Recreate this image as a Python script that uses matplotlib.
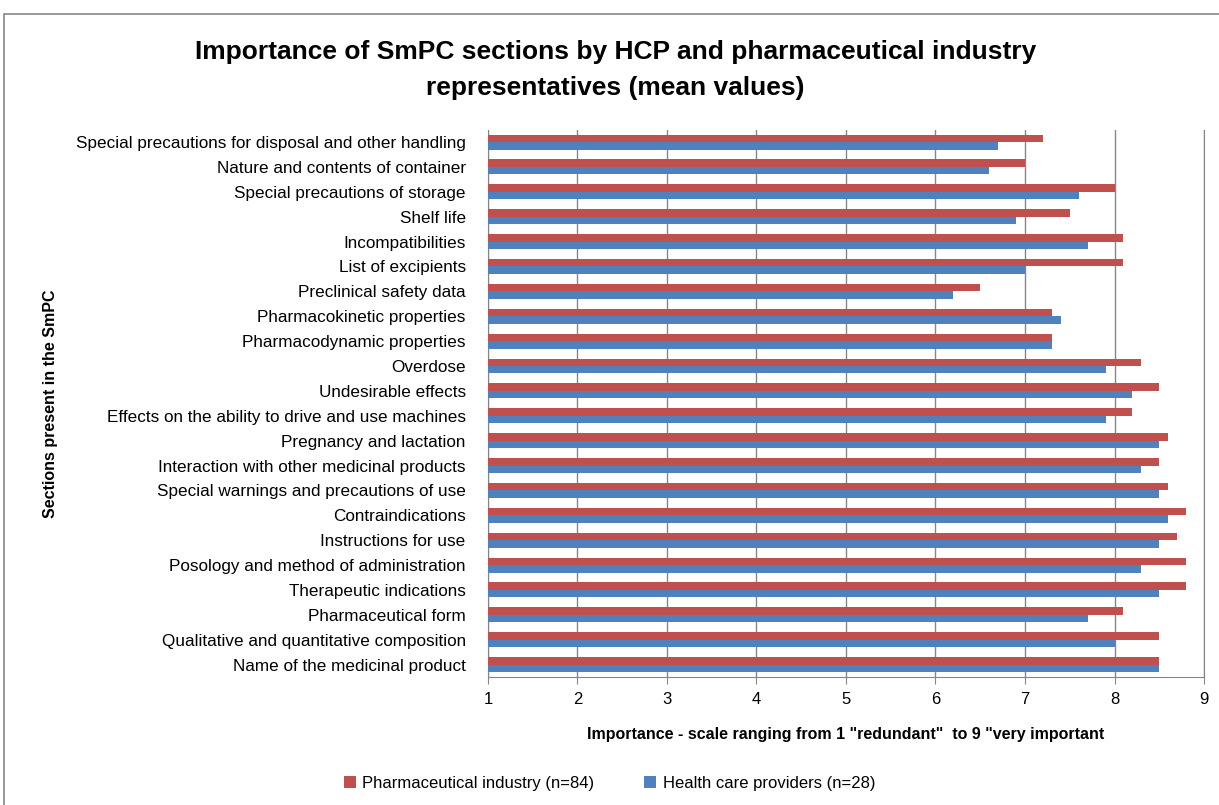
import numpy as np
import matplotlib.pyplot as plt
from matplotlib.patches import Rectangle

plt.rcParams['font.family'] = ['Liberation Sans', 'DejaVu Sans']

# sections listed bottom to top
sections = [
    "Name of the medicinal product",
    "Qualitative and quantitative composition",
    "Pharmaceutical form",
    "Therapeutic indications",
    "Posology and method of administration",
    "Instructions for use",
    "Contraindications",
    "Special warnings and precautions of use",
    "Interaction with other medicinal products",
    "Pregnancy and lactation",
    "Effects on the ability to drive and use machines",
    "Undesirable effects",
    "Overdose",
    "Pharmacodynamic properties",
    "Pharmacokinetic properties",
    "Preclinical safety data",
    "List of excipients",
    "Incompatibilities",
    "Shelf life",
    "Special precautions of storage",
    "Nature and contents of container",
    "Special precautions for disposal and other handling",
]
industry = [8.5, 8.5, 8.1, 8.8, 8.8, 8.7, 8.8, 8.6, 8.5, 8.6, 8.2,
            8.5, 8.3, 7.3, 7.3, 6.5, 8.1, 8.1, 7.5, 8.0, 7.0, 7.2]
hcp = [8.5, 8.0, 7.7, 8.5, 8.3, 8.5, 8.6, 8.5, 8.3, 8.5, 7.9,
       8.2, 7.9, 7.3, 7.4, 6.2, 7.0, 7.7, 6.9, 7.6, 6.6, 6.7]

red = '#C0504D'
blue = '#4F81BD'

fig = plt.figure(figsize=(12.19, 8.05), dpi=100)
ax = fig.add_axes([0.4003, 0.159, 0.5874, 0.68])

y = np.arange(len(sections))
h = 0.3
base = 1
ax.barh(y + h / 2, np.array(industry) - base, left=base, height=h,
        color=red, label='Pharmaceutical industry (n=84)', zorder=3)
ax.barh(y - h / 2, np.array(hcp) - base, left=base, height=h,
        color=blue, label='Health care providers (n=28)', zorder=3)

ax.set_xlim(1, 9)
ax.set_ylim(-0.5, len(sections) - 0.5)
ax.set_xticks(range(1, 10))
ax.set_yticks(y)
ax.set_yticklabels(sections, fontsize=12.3)
ax.tick_params(axis='x', labelsize=12, length=5, color='#868686', pad=6)
ax.tick_params(axis='y', length=0, pad=16)
ax.grid(axis='x', color='#868686', linewidth=1, zorder=0)
ax.spines['top'].set_visible(False)
for s in ['left', 'bottom', 'right']:
    ax.spines[s].set_color('#868686')

ax.set_xlabel('Importance - scale ranging from 1 "redundant"  to 9 "very important',
              fontsize=11.5, fontweight='bold', labelpad=14)
ax.set_ylabel('Sections present in the SmPC', fontsize=11.5, fontweight='bold')
ax.yaxis.set_label_coords(-0.60, 0.5)

fig.suptitle('Importance of SmPC sections by HCP and pharmaceutical industry\nrepresentatives (mean values)',
             fontsize=19, fontweight='bold', x=0.505, y=0.95, linespacing=1.6)

fig.legend(loc='center', bbox_to_anchor=(0.5, 0.027), ncol=2, frameon=False,
           fontsize=12, handlelength=0.7, handleheight=0.7, columnspacing=3,
           handletextpad=0.4)

fig.patches.append(Rectangle((0.003, -0.01), 1.1, 0.993, transform=fig.transFigure,
                             fill=False, edgecolor='#868686', linewidth=1.2))

fig.savefig('out.png', dpi=100)
